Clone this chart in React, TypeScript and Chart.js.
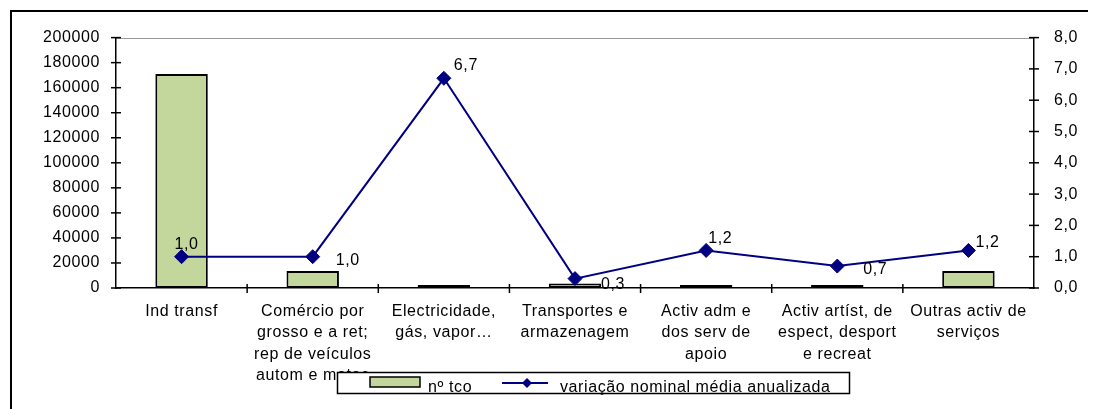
import React, { useEffect, useRef } from 'react';
import { Chart, registerables } from 'chart.js';

Chart.register(...registerables);

const categories: string[][] = [
  ['Ind transf'],
  ['Comércio por', 'grosso e a ret;', 'rep de veículos', 'autom e motoc'],
  ['Electricidade,', 'gás, vapor…'],
  ['Transportes e', 'armazenagem'],
  ['Activ adm e', 'dos serv de', 'apoio'],
  ['Activ artíst, de', 'espect, desport', 'e recreat'],
  ['Outras activ de', 'serviços'],
];
const nTco = [171000, 13500, 600, 3600, 1000, 1000, 13500];
const variacao = [1.0, 1.0, 6.7, 0.3, 1.2, 0.7, 1.2];
const seriesNames = ['nº tco', 'variação nominal média anualizada'];
const leftAxis = { min: 0, max: 200000, step: 20000 };
const rightAxis = { min: 0, max: 8, step: 1 };

const FONT = "'Liberation Sans', Arial, sans-serif";
const FSIZE = 16;
const SPACING = '0.6px';
const BAR_COLOR = '#c3d69b';
const LINE_COLOR = '#000080';

// label placement (style only): offset of label's left/middle from the point
const labelOffsets = [
  [-7, -12], [23, 4], [10, -13], [26, 6], [2, -12], [26, 4], [7, -8],
];

const fmtComma = (v: number) => v.toFixed(1).replace('.', ',');

const decorPlugin = {
  id: 'decor',
  beforeDraw(chart: any) {
    const { ctx, chartArea } = chart;
    ctx.save();
    // outer frame (left + top only visible)
    ctx.strokeStyle = '#000';
    ctx.lineWidth = 2;
    ctx.beginPath();
    ctx.moveTo(3, chart.height + 2);
    ctx.lineTo(3, 3);
    ctx.lineTo(chart.width + 2, 3);
    ctx.stroke();
    // plot area top border
    ctx.strokeStyle = '#9a9a9a';
    ctx.lineWidth = 1;
    ctx.beginPath();
    ctx.moveTo(chartArea.left, Math.round(chartArea.top) + 0.5);
    ctx.lineTo(chartArea.right, Math.round(chartArea.top) + 0.5);
    ctx.stroke();
    ctx.restore();
    (ctx as any).letterSpacing = SPACING;
  },
  afterDraw(chart: any) {
    const { ctx, chartArea, scales } = chart;
    ctx.save();
    (ctx as any).letterSpacing = SPACING;
    ctx.strokeStyle = '#000';
    ctx.lineWidth = 1.5;
    // cross tick marks on y axes
    const yl = scales.y;
    yl.ticks.forEach((t: any) => {
      const py = yl.getPixelForValue(t.value);
      ctx.beginPath();
      ctx.moveTo(chartArea.left - 5, py);
      ctx.lineTo(chartArea.left + 5, py);
      ctx.stroke();
    });
    const yr = scales.y1;
    yr.ticks.forEach((t: any) => {
      const py = yr.getPixelForValue(t.value);
      ctx.beginPath();
      ctx.moveTo(chartArea.right - 5, py);
      ctx.lineTo(chartArea.right + 5, py);
      ctx.stroke();
    });
    // x tick marks between categories
    const xs = scales.x;
    const n = chart.data.labels.length;
    for (let i = 1; i < n; i++) {
      const px = (xs.getPixelForValue(i - 1) + xs.getPixelForValue(i)) / 2;
      ctx.beginPath();
      ctx.moveTo(px, chartArea.bottom - 4);
      ctx.lineTo(px, chartArea.bottom + 5);
      ctx.stroke();
    }

    // data labels for the line
    const meta = chart.getDatasetMeta(1);
    const vals = chart.data.datasets[1].data;
    ctx.fillStyle = '#000';
    ctx.font = `${FSIZE}px ${FONT}`;
    ctx.textAlign = 'left';
    ctx.textBaseline = 'middle';
    meta.data.forEach((pt: any, i: number) => {
      const [dx, dy] = labelOffsets[i] || [6, -8];
      ctx.fillText(fmtComma(vals[i]), pt.x + dx, pt.y + dy);
    });

    // custom legend box overlapping the axis labels
    const bx = 329, by = 364, bw = 512, bh = 21;
    ctx.fillStyle = '#fff';
    ctx.fillRect(bx, by, bw, bh);
    ctx.strokeStyle = '#000';
    ctx.lineWidth = 1.5;
    ctx.strokeRect(bx + 0.5, by + 0.5, bw, bh);
    // bar swatch
    ctx.fillStyle = BAR_COLOR;
    ctx.fillRect(362, 369, 50, 10);
    ctx.lineWidth = 1.5;
    ctx.strokeRect(362, 369, 50, 10);
    ctx.fillStyle = '#000';
    ctx.textBaseline = 'alphabetic';
    ctx.fillText(chart.data.datasets[0].label, 420, 384);
    // line swatch
    ctx.strokeStyle = LINE_COLOR;
    ctx.lineWidth = 2;
    ctx.beginPath();
    ctx.moveTo(494, 375);
    ctx.lineTo(540, 375);
    ctx.stroke();
    ctx.fillStyle = LINE_COLOR;
    ctx.beginPath();
    ctx.moveTo(519, 370);
    ctx.lineTo(524, 375);
    ctx.lineTo(519, 380);
    ctx.lineTo(514, 375);
    ctx.closePath();
    ctx.fill();
    ctx.fillStyle = '#000';
    ctx.fillText(chart.data.datasets[1].label, 552, 384);
    ctx.restore();
  },
};

export default function App() {
  const ref = useRef<HTMLCanvasElement | null>(null);
  useEffect(() => {
    if (!ref.current) return;
    Chart.defaults.font.family = FONT;
    Chart.defaults.font.size = FSIZE;
    Chart.defaults.color = '#000';
    const chart = new Chart(ref.current, {
      type: 'bar',
      data: {
        labels: categories,
        datasets: [
          {
            type: 'bar',
            label: seriesNames[0],
            data: nTco,
            backgroundColor: BAR_COLOR,
            borderColor: '#000',
            borderWidth: 2,
            borderSkipped: false,
            minBarLength: 3,
            barPercentage: 0.4,
            categoryPercentage: 1,
            yAxisID: 'y',
            order: 1,
          } as any,
          {
            type: 'line',
            label: seriesNames[1],
            data: variacao,
            borderColor: LINE_COLOR,
            backgroundColor: LINE_COLOR,
            borderWidth: 2,
            pointStyle: 'rectRot',
            pointRadius: 7,
            pointBorderWidth: 1,
            pointBackgroundColor: LINE_COLOR,
            pointBorderColor: LINE_COLOR,
            tension: 0,
            yAxisID: 'y1',
            order: 0,
          } as any,
        ],
      },
      options: {
        responsive: false,
        animation: false,
        layout: { padding: { top: 28, left: 0, right: 0, bottom: 0 } },
        plugins: {
          legend: { display: false },
          tooltip: { enabled: false },
        },
        scales: {
          x: {
            offset: true,
            grid: { display: false, drawTicks: false },
            border: { color: '#000', width: 1.5 },
            ticks: {
              color: '#000',
              maxRotation: 0,
              autoSkip: false,
              padding: 13,
              font: { size: FSIZE, lineHeight: 1.33 },
            },
            afterFit: (s: any) => { s.height = 121; },
          },
          y: {
            position: 'left',
            min: leftAxis.min,
            max: leftAxis.max,
            grid: { display: false, drawTicks: false },
            border: { color: '#000', width: 1.5 },
            ticks: {
              stepSize: leftAxis.step,
              padding: 16,
              color: '#000',
              callback: (v: any) => String(v),
            },
            afterFit: (s: any) => { s.width = 108; },
          },
          y1: {
            position: 'right',
            min: rightAxis.min,
            max: rightAxis.max,
            grid: { display: false, drawTicks: false },
            border: { color: '#000', width: 1.5 },
            ticks: {
              stepSize: rightAxis.step,
              padding: 20,
              color: '#000',
              callback: (v: any) => fmtComma(Number(v)),
            },
            afterFit: (s: any) => { s.width = 54; },
          },
        },
      } as any,
      plugins: [decorPlugin],
    });
    return () => chart.destroy();
  }, []);
  return (
    <div style={{ width: 1080, height: 401 }}>
      <canvas ref={ref} width={1080} height={401} style={{ display: 'block' }} />
    </div>
  );
}
